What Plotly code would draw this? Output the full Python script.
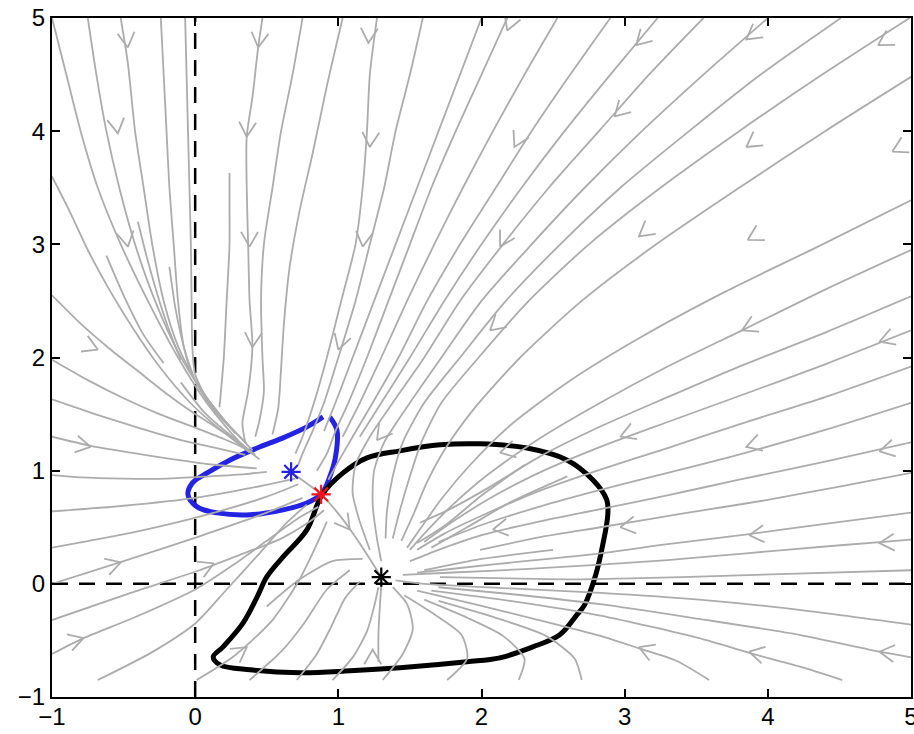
import math
import plotly.graph_objects as go

# ---------------- axes ----------------
x_range = [-1, 5]
y_range = [-1, 5]
tick_vals = [-1, 0, 1, 2, 3, 4, 5]
tick_text = ["\u22121", "0", "1", "2", "3", "4", "5"]

# ---------------- equilibria ----------------
star_black = (1.30, 0.06)
star_blue = (0.67, 0.99)
star_red = (0.88, 0.79)

# ---------------- closed curves ----------------
blue_x = [0.94, 0.99, 0.98, 0.94, 0.886, 0.78, 0.614, 0.384, 0.154, 0.014, -0.05, -0.02, 0.084, 0.244, 0.433, 0.614, 0.78, 0.893]
blue_y = [1.475, 1.36, 1.12, 0.945, 0.80, 0.715, 0.654, 0.61, 0.627, 0.68, 0.786, 0.89, 0.98, 1.095, 1.20, 1.29, 1.387, 1.475]

black_x = [0.886, 1.033, 1.20, 1.43, 1.71, 1.99, 2.317, 2.596, 2.777, 2.875, 2.882, 2.847, 2.798, 2.72, 2.666, 2.547, 2.359,
           2.128, 1.898, 1.43, 1.082, 0.733, 0.384, 0.174, 0.126, 0.195, 0.335, 0.433, 0.50, 0.614, 0.78, 0.886]
black_y = [0.786, 0.98, 1.113, 1.175, 1.228, 1.237, 1.20, 1.095, 0.919, 0.742, 0.61, 0.345, 0.08, -0.186, -0.274, -0.45, -0.557,
           -0.654, -0.689, -0.742, -0.769, -0.786, -0.76, -0.716, -0.645, -0.557, -0.345, -0.115, 0.062, 0.239, 0.477, 0.786]

# ---------------- streamlines ----------------
stream_upper_left = [
    [(-1.0, 5.0), (-0.9, 4.5), (-0.8, 4.0), (-0.68, 3.5), (-0.52, 3.0), (-0.33, 2.5), (-0.12, 2.0), (0.08, 1.6), (0.22, 1.38), (0.32, 1.24), (0.42, 1.14)],
    [(-0.75, 5.0), (-0.69, 4.5), (-0.62, 4.0), (-0.53, 3.5), (-0.42, 3.0), (-0.28, 2.5), (-0.12, 2.05), (0.05, 1.7), (0.2, 1.45), (0.31, 1.3), (0.4, 1.18)],
    [(-0.52, 5.0), (-0.47, 4.6), (-0.42, 4.0), (-0.36, 3.5), (-0.3, 3.0), (-0.22, 2.5), (-0.12, 2.1), (0.02, 1.75), (0.17, 1.5), (0.28, 1.33)],
    [(-0.24, 5.0), (-0.22, 4.5), (-0.2, 4.0), (-0.18, 3.5), (-0.15, 3.0), (-0.12, 2.5), (-0.08, 2.1), (0.0, 1.8), (0.12, 1.55), (0.27, 1.35)],
    [(-0.07, 5.0), (-0.06, 4.5), (-0.05, 4.0), (-0.04, 3.5), (-0.03, 3.0), (-0.025, 2.5), (-0.02, 2.1), (0.0, 1.85), (0.1, 1.6), (0.25, 1.38), (0.36, 1.24)],
    [(-1.0, 3.6), (-0.88, 3.3), (-0.75, 2.95), (-0.6, 2.6), (-0.43, 2.25), (-0.25, 1.92), (-0.05, 1.62), (0.12, 1.42), (0.26, 1.28), (0.38, 1.16)],
    [(-1.0, 2.55), (-0.8, 2.3), (-0.6, 2.08), (-0.4, 1.88), (-0.2, 1.68), (0.0, 1.5), (0.15, 1.38), (0.28, 1.27)],
    [(-1.0, 1.98), (-0.75, 1.8), (-0.5, 1.64), (-0.25, 1.5), (0.0, 1.38), (0.2, 1.28), (0.34, 1.2), (0.45, 1.1)],
    [(-1.0, 1.63), (-0.7, 1.5), (-0.4, 1.38), (-0.1, 1.27), (0.15, 1.2), (0.35, 1.14)],
    [(-1.0, 1.3), (-0.73, 1.22), (-0.45, 1.16), (-0.15, 1.1), (0.15, 1.05), (0.43, 1.02)],
    [(-1.0, 0.96), (-0.8, 0.94), (-0.5, 0.93), (-0.2, 0.93), (0.1, 0.95), (0.35, 0.97), (0.5, 0.99)],
    [(-0.62, 2.9), (-0.5, 2.55), (-0.36, 2.2), (-0.22, 1.95)],
    [(-0.4, 3.2), (-0.33, 2.85), (-0.25, 2.5), (-0.17, 2.2), (-0.1, 1.98)],
    [(-0.18, 2.8), (-0.14, 2.45), (-0.1, 2.2), (-0.04, 1.9)],
    [(-0.1, 1.78), (0.06, 1.52), (0.22, 1.34), (0.34, 1.22)],
    [(0.47, 5.0), (0.44, 4.74), (0.4, 4.3), (0.36, 3.95), (0.36, 3.5), (0.37, 3.0), (0.38, 2.5), (0.4, 2.1), (0.37, 1.7), (0.33, 1.42), (0.35, 1.25)],
    [(0.75, 5.0), (0.68, 4.5), (0.6, 4.0), (0.54, 3.5), (0.48, 3.0), (0.46, 2.5), (0.47, 2.0), (0.48, 1.7), (0.45, 1.45), (0.42, 1.3)],
    [(0.24, 3.63), (0.24, 3.3), (0.24, 3.0), (0.22, 2.5), (0.2, 2.0), (0.17, 1.56)],
    [(1.03, 5.0), (0.92, 4.4), (0.82, 3.8), (0.73, 3.3), (0.66, 2.8), (0.62, 2.3), (0.6, 1.9), (0.58, 1.55), (0.54, 1.32)],
]

stream_fan = [
    [(1.27, 5.0), (1.22, 4.5), (1.2, 4.0), (1.17, 3.5), (1.12, 3.0), (1.02, 2.5), (0.92, 2.0), (0.83, 1.6), (0.75, 1.3), (0.7, 1.15)],
    [(1.59, 5.0), (1.5, 4.5), (1.4, 4.0), (1.32, 3.5), (1.22, 3.0), (1.12, 2.5), (1.0, 2.0), (0.9, 1.6), (0.82, 1.35), (0.75, 1.15), (0.72, 1.05)],
    [(2.0, 5.0), (1.85, 4.5), (1.7, 4.0), (1.55, 3.5), (1.4, 3.0), (1.25, 2.5), (1.1, 2.0), (0.98, 1.6), (0.9, 1.35)],
    [(2.18, 5.0), (2.0, 4.5), (1.82, 4.0), (1.65, 3.5), (1.5, 3.0), (1.35, 2.5), (1.2, 2.0), (1.07, 1.6), (0.98, 1.35), (0.92, 1.15), (0.85, 1.0)],
    [(2.53, 5.0), (2.3, 4.5), (2.08, 4.0), (1.87, 3.5), (1.67, 3.0), (1.48, 2.5), (1.3, 2.0), (1.15, 1.6), (1.03, 1.3)],
    [(2.9, 5.0), (2.62, 4.5), (2.35, 4.0), (2.1, 3.5), (1.85, 3.0), (1.62, 2.5), (1.42, 2.0), (1.24, 1.6), (1.1, 1.3), (1.0, 1.08), (0.93, 0.92)],
    [(3.23, 5.0), (2.9, 4.5), (2.58, 4.0), (2.28, 3.5), (2.0, 3.0), (1.74, 2.5), (1.5, 2.0), (1.3, 1.6), (1.15, 1.3)],
    [(3.55, 5.0), (3.17, 4.5), (2.82, 4.0), (2.47, 3.5), (2.15, 3.0), (1.85, 2.5), (1.6, 2.0), (1.38, 1.6), (1.22, 1.3), (1.12, 1.05), (1.1, 0.8), (1.15, 0.55), (1.22, 0.3)],
    [(4.0, 5.0), (3.55, 4.5), (3.12, 4.0), (2.72, 3.5), (2.35, 3.0), (2.0, 2.5), (1.72, 2.0), (1.5, 1.6), (1.32, 1.25), (1.25, 1.0), (1.24, 0.7), (1.27, 0.4), (1.3, 0.2)],
    [(4.51, 5.0), (3.95, 4.5), (3.45, 4.0), (2.97, 3.5), (2.55, 3.0), (2.17, 2.5), (1.85, 2.0), (1.6, 1.6), (1.45, 1.25), (1.38, 0.95), (1.34, 0.65), (1.33, 0.4)],
    [(4.99, 5.0), (4.38, 4.5), (3.8, 4.0), (3.25, 3.5), (2.75, 3.0), (2.33, 2.5), (1.98, 2.0), (1.72, 1.6), (1.58, 1.25), (1.5, 0.95), (1.43, 0.65), (1.38, 0.4)],
    [(5.0, 4.48), (4.4, 4.0), (3.8, 3.5), (3.22, 3.0), (2.7, 2.5), (2.27, 2.0), (1.95, 1.55), (1.75, 1.2), (1.62, 0.9), (1.52, 0.6), (1.44, 0.38)],
    [(5.0, 3.39), (4.35, 2.98), (3.7, 2.58), (3.1, 2.17), (2.6, 1.78), (2.2, 1.4), (1.92, 1.05), (1.72, 0.75), (1.58, 0.5), (1.48, 0.32)],
    [(5.0, 2.95), (4.4, 2.6), (3.82, 2.24), (3.3, 1.92), (2.83, 1.6), (2.4, 1.28), (2.05, 0.97), (1.8, 0.7), (1.62, 0.47), (1.5, 0.3)],
    [(5.0, 2.54), (4.4, 2.22), (3.8, 1.92), (3.3, 1.65), (2.83, 1.39), (2.4, 1.12), (2.05, 0.85), (1.78, 0.66), (1.57, 0.54)],
    [(5.0, 2.24), (4.4, 1.94), (3.8, 1.66), (3.3, 1.43), (2.83, 1.21), (2.4, 0.98), (2.05, 0.75), (1.8, 0.55), (1.6, 0.37)],
    [(5.0, 1.92), (4.4, 1.65), (3.8, 1.41), (3.3, 1.2), (2.83, 1.01), (2.4, 0.82), (2.05, 0.63), (1.75, 0.45), (1.55, 0.3)],
    [(5.0, 1.6), (4.4, 1.36), (3.85, 1.16), (3.3, 0.98), (2.83, 0.83), (2.4, 0.68), (2.0, 0.52), (1.7, 0.37)],
    [(5.0, 1.25), (4.4, 1.08), (3.8, 0.92), (3.29, 0.78), (2.83, 0.66), (2.4, 0.55), (2.0, 0.43), (1.7, 0.3), (1.5, 0.2)],
    [(5.0, 0.98), (4.5, 0.86), (3.99, 0.74), (3.4, 0.62), (2.83, 0.5), (2.4, 0.41), (1.99, 0.3)],
    [(5.0, 0.63), (4.4, 0.53), (3.87, 0.44), (3.3, 0.35), (2.83, 0.27), (2.3, 0.2), (1.85, 0.14), (1.55, 0.1)],
    [(5.0, 0.39), (4.4, 0.33), (3.85, 0.27), (3.3, 0.21), (2.83, 0.17), (2.3, 0.13), (1.8, 0.1), (1.45, 0.08)],
    [(5.0, 0.12), (4.2, 0.09), (3.4, 0.06), (2.6, 0.04), (2.1, 0.05), (1.71, 0.06)],
    [(2.6, 0.95), (2.2, 0.72), (1.9, 0.5), (1.65, 0.32)],
    [(2.3, 1.05), (2.0, 0.78), (1.75, 0.52), (1.55, 0.36)],
    [(2.5, 0.3), (2.0, 0.22), (1.6, 0.12)],
]

stream_lower = [
    [(-1.0, 0.64), (-0.5, 0.69), (0.0, 0.76), (0.4, 0.85), (0.7, 0.93)],
    [(-1.0, 0.32), (-0.45, 0.45), (0.05, 0.6), (0.5, 0.77), (0.72, 0.88)],
    [(-1.0, 0.0), (-0.5, 0.2), (0.03, 0.42), (0.5, 0.63), (0.75, 0.76)],
    [(-1.0, -0.32), (-0.45, -0.08), (0.03, 0.12), (0.3, 0.25), (0.6, 0.4), (0.8, 0.55), (0.9, 0.65)],
    [(-1.0, -0.62), (-0.78, -0.48), (-0.43, -0.3), (0.0, -0.05), (0.27, 0.17), (0.5, 0.38), (0.72, 0.58), (0.86, 0.68)],
    [(-0.68, -0.85), (-0.31, -0.61), (0.0, -0.35), (0.22, -0.05), (0.45, 0.27), (0.64, 0.54), (0.78, 0.7)],
    [(0.01, -0.85), (0.27, -0.64), (0.54, -0.32), (0.73, 0.04), (0.85, 0.35), (0.92, 0.55)],
    [(0.38, -0.85), (0.6, -0.6), (0.76, -0.35), (0.92, -0.05), (1.08, 0.12)],
    [(0.71, -0.85), (0.85, -0.62), (0.95, -0.38), (1.05, -0.12), (1.15, 0.02)],
    [(0.5, -0.2), (0.73, 0.04), (0.96, 0.2), (1.17, 0.22)],
    [(0.96, -0.85), (1.1, -0.65), (1.2, -0.42), (1.25, -0.2), (1.28, -0.03)],
    [(1.28, -0.69), (1.28, -0.45), (1.29, -0.2), (1.3, -0.02)],
    [(1.31, -0.85), (1.45, -0.62), (1.52, -0.4), (1.48, -0.18), (1.38, -0.03)],
    [(1.76, -0.85), (1.9, -0.66), (1.86, -0.45), (1.66, -0.26), (1.46, -0.1)],
    [(2.26, -0.85), (2.3, -0.66), (2.15, -0.46), (1.9, -0.3), (1.6, -0.14)],
    [(2.7, -0.85), (2.65, -0.66), (2.45, -0.46), (2.1, -0.3), (1.7, -0.15)],
    [(3.59, -0.85), (3.36, -0.68), (3.1, -0.57), (2.83, -0.46), (2.4, -0.32), (1.95, -0.18), (1.55, -0.06)],
    [(4.52, -0.85), (4.22, -0.73), (3.87, -0.61), (3.52, -0.48), (2.83, -0.28), (2.2, -0.15), (1.65, -0.06)],
    [(5.0, -0.65), (4.78, -0.6), (4.22, -0.45), (3.52, -0.31), (2.83, -0.18), (2.2, -0.09), (1.7, -0.03)],
    [(5.0, -0.36), (4.22, -0.23), (3.52, -0.14), (2.83, -0.08), (2.2, -0.04), (1.6, 0.0), (1.4, 0.03)],
    [(0.7, 0.96), (0.88, 0.79), (1.0, 0.62), (1.1, 0.45), (1.2, 0.26), (1.29, 0.08)],
]

# arrow positions and flow directions (dx, dy in data units)
arrow_x = [-0.47, -0.54, -0.47, 0.44, 0.36, 0.38, 1.21, 1.22, 1.17, 2.18, 2.23, 2.13, 2.93, 3.08, 3.85, 4.77, 3.85, 4.87,
           3.1, 3.86, -0.68, 0.4, -0.73, 1.0, 2.06, 1.27, 2.13, 3.82, 4.78, 2.97, 3.85, 4.78, -0.52, 0.13, -0.78, 0.36,
           1.08, 2.08, 1.24, 2.97, 3.87, 4.78, 3.1, 3.87, 4.78]
arrow_y = [4.74, 3.98, 2.98, 4.74, 3.95, 2.98, 4.78, 3.86, 2.98, 4.89, 3.86, 2.98, 4.13, 4.76, 4.81, 4.76, 3.86, 3.82,
           3.07, 3.04, 2.07, 2.09, 1.21, 2.07, 2.24, 1.27, 1.16, 2.24, 2.14, 1.3, 1.21, 1.17, 0.19, 0.18, -0.48, -0.56,
           0.48, 0.48, -0.58, 0.5, 0.43, 0.36, -0.56, -0.6, -0.6]
arrow_dx = [0.1, 0.12, 0.15, -0.1, -0.05, 0.0, -0.05, -0.05, -0.1, -0.3, -0.4, -0.45, -0.8, -0.8, -1, -1, -1, -1,
            -1, -1, 1, -0.05, 1, -0.25, -1, -0.6, -1, -1, -1, -1, -1, -1, 1, 1, 1, 1,
            0.6, -1, 0, -1, -1, -1, -1, -1, -1]
arrow_dy = [-1, -1, -1, -1, -1, -1, -1, -1, -1, -1, -1, -1, -1, -1, -0.95, -0.75, -0.9, -0.65,
            -1, -0.7, -0.55, -1, -0.25, -1, -1.1, -1, -0.3, -0.6, -0.45, -0.5, -0.4, -0.3, 0.4, 0.55, 0.4, 0.9,
            -1, -0.2, 1, -0.2, -0.12, -0.08, 0.5, 0.3, 0.15]

# ---------------- layout geometry ----------------
W, H = 914, 734
MARGIN = dict(l=52, r=3, t=18, b=37, pad=0)
px_per_x = (W - MARGIN["l"] - MARGIN["r"]) / (x_range[1] - x_range[0])
px_per_y = (H - MARGIN["t"] - MARGIN["b"]) / (y_range[1] - y_range[0])

GRAY = "rgb(172,172,172)"
BLUE = "rgb(35,35,225)"
RED = "rgb(240,20,30)"


def join_lines(lines):
    xs, ys = [], []
    for ln in lines:
        for x, y in ln:
            xs.append(x)
            ys.append(y)
        xs.append(None)
        ys.append(None)
    return xs, ys


def chevrons(xs, ys, dxs, dys, length=17.0, half_angle=30.0):
    cx, cy = [], []
    for x, y, dx, dy in zip(xs, ys, dxs, dys):
        ux, uy = dx * px_per_x, dy * px_per_y
        n = math.hypot(ux, uy)
        ux, uy = ux / n, uy / n
        wings = []
        for s in (1, -1):
            a = math.radians(180 + s * half_angle)
            wx = ux * math.cos(a) - uy * math.sin(a)
            wy = ux * math.sin(a) + uy * math.cos(a)
            wings.append((x + wx * length / px_per_x, y + wy * length / px_per_y))
        cx += [wings[0][0], x, wings[1][0], None]
        cy += [wings[0][1], y, wings[1][1], None]
    return cx, cy


fig = go.Figure()

# dashed reference axes
fig.add_trace(go.Scatter(x=[0, 0], y=y_range, mode="lines",
                         line=dict(color="black", width=2.5, dash="16px,11px"), hoverinfo="skip"))
fig.add_trace(go.Scatter(x=x_range, y=[0, 0], mode="lines",
                         line=dict(color="black", width=2.5, dash="16px,11px"), hoverinfo="skip"))

# closed curves
fig.add_trace(go.Scatter(x=blue_x, y=blue_y, mode="lines", line=dict(color=BLUE, width=5, shape="spline"),
                         hoverinfo="skip"))
fig.add_trace(go.Scatter(x=black_x, y=black_y, mode="lines", line=dict(color="black", width=5, shape="spline"),
                         hoverinfo="skip"))

# streamlines
sx_, sy_ = join_lines(stream_upper_left + stream_fan + stream_lower)
fig.add_trace(go.Scatter(x=sx_, y=sy_, mode="lines", line=dict(color=GRAY, width=1.8, shape="spline", smoothing=0.7),
                         connectgaps=False, hoverinfo="skip"))
ax_, ay_ = chevrons(arrow_x, arrow_y, arrow_dx, arrow_dy)
fig.add_trace(go.Scatter(x=ax_, y=ay_, mode="lines", line=dict(color=GRAY, width=1.8), hoverinfo="skip"))

# equilibria
for (px, py), col in ((star_black, "black"), (star_blue, BLUE), (star_red, RED)):
    fig.add_trace(go.Scatter(x=[px], y=[py], mode="markers",
                             marker=dict(symbol="asterisk-open", size=16, color=col, line=dict(color=col, width=2.2)),
                             hoverinfo="skip"))

axis_common = dict(
    showgrid=False, zeroline=False, showline=True, linecolor="black", linewidth=2, mirror="ticks",
    ticks="inside", ticklen=8, tickwidth=2, tickcolor="black", tickvals=tick_vals, ticktext=tick_text,
    tickfont=dict(family="Liberation Sans, Arial, sans-serif", size=24, color="black"),
    ticklabeloverflow="allow", automargin=False,
)
fig.update_xaxes(range=x_range, ticklabelstandoff=-3, **axis_common)
fig.update_yaxes(range=y_range, **axis_common)
fig.update_layout(width=W, height=H, margin=MARGIN, showlegend=False,
                  plot_bgcolor="white", paper_bgcolor="white")

fig.write_html("out.html")
